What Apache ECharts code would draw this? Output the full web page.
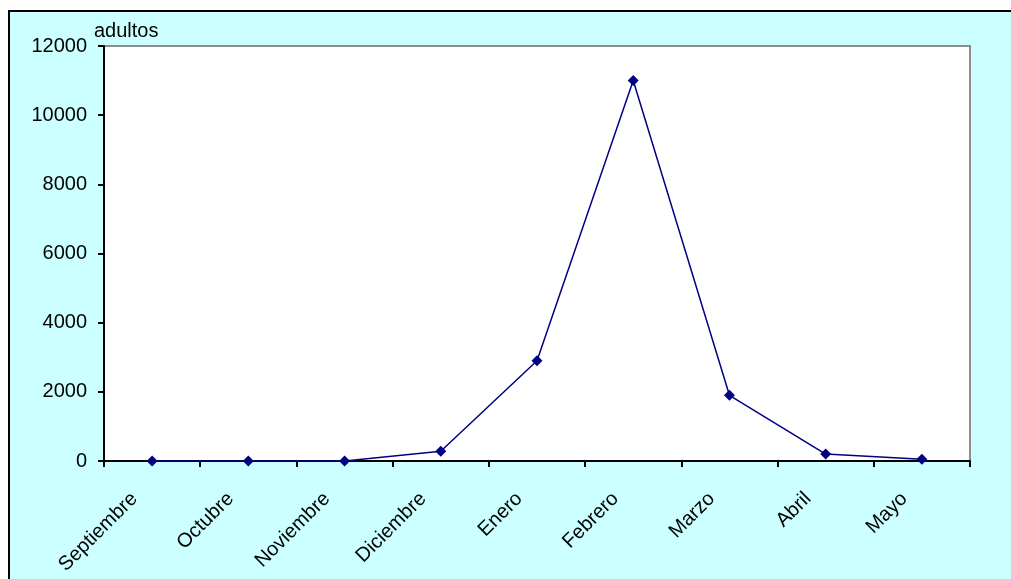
<!DOCTYPE html>
<html>
<head>
<meta charset="utf-8">
<style>
  html, body { margin: 0; padding: 0; background: #CCFFFF; overflow: hidden; }
  #chart { width: 1011px; height: 579px; }
</style>
<script src="https://cdn.jsdelivr.net/npm/echarts@6/dist/echarts.min.js"></script>
</head>
<body>
<div id="chart"></div>
<script>
// Months of the season
const months = ['Septiembre', 'Octubre', 'Noviembre', 'Diciembre', 'Enero', 'Febrero', 'Marzo', 'Abril', 'Mayo'];
// Number of adults per month
const adultos = [0, 0, 0, 280, 2900, 11000, 1900, 200, 50];
// Value axis range
const yMin = 0;
const yMax = 12000;
const yStep = 2000;

const chart = echarts.init(document.getElementById('chart'), null, { renderer: 'canvas' });
const font = 'Liberation Sans, Arial, sans-serif';

chart.setOption({
  backgroundColor: '#CCFFFF',
  animation: false,
  graphic: [
    {
      // white margin above and left of the chart frame
      type: 'rect', z: -10, silent: true,
      shape: { x: 0, y: 0, width: 1011, height: 10 },
      style: { fill: '#ffffff' }
    },
    {
      type: 'rect', z: -10, silent: true,
      shape: { x: 0, y: 0, width: 8, height: 579 },
      style: { fill: '#ffffff' }
    },
    {
      // frame, left and top edges
      type: 'polyline', z: -9, silent: true,
      shape: { points: [[9, 579], [9, 11], [1011, 11]] },
      style: { stroke: '#000000', lineWidth: 2, fill: null }
    }
  ],
  grid: {
    left: 104, top: 46, right: 41, bottom: 118,
    show: true,
    backgroundColor: '#ffffff',
    borderColor: '#8c8c8c',
    borderWidth: 2,
    containLabel: false
  },
  xAxis: {
    type: 'category',
    data: months,
    boundaryGap: true,
    axisLine: { lineStyle: { color: '#000000', width: 2 } },
    axisTick: { show: true, length: 6, lineStyle: { color: '#000000', width: 2 } },
    axisLabel: {
      rotate: 45, margin: 17, color: '#000000',
      fontFamily: font, fontSize: 20, interval: 0,
      padding: [0, 25, 0, 0]
    },
    splitLine: { show: false }
  },
  yAxis: {
    type: 'value',
    min: yMin, max: yMax, interval: yStep,
    name: 'adultos',
    nameLocation: 'end',
    nameGap: 5,
    nameTextStyle: { color: '#000000', fontFamily: font, fontSize: 20, align: 'left', padding: [0, 0, 0, -10] },
    axisLine: { show: true, lineStyle: { color: '#000000', width: 2 } },
    axisTick: { show: true, length: 6, lineStyle: { color: '#000000', width: 2 } },
    axisLabel: {
      margin: 17, color: '#000000', fontFamily: font, fontSize: 20,
      formatter: function (v) { return String(v); }
    },
    splitLine: { show: false }
  },
  series: [{
    type: 'line',
    data: adultos,
    symbol: 'diamond',
    symbolSize: 11,
    showAllSymbol: true,
    lineStyle: { color: '#000080', width: 1.5 },
    itemStyle: { color: '#000080' }
  }]
});
</script>
</body>
</html>
